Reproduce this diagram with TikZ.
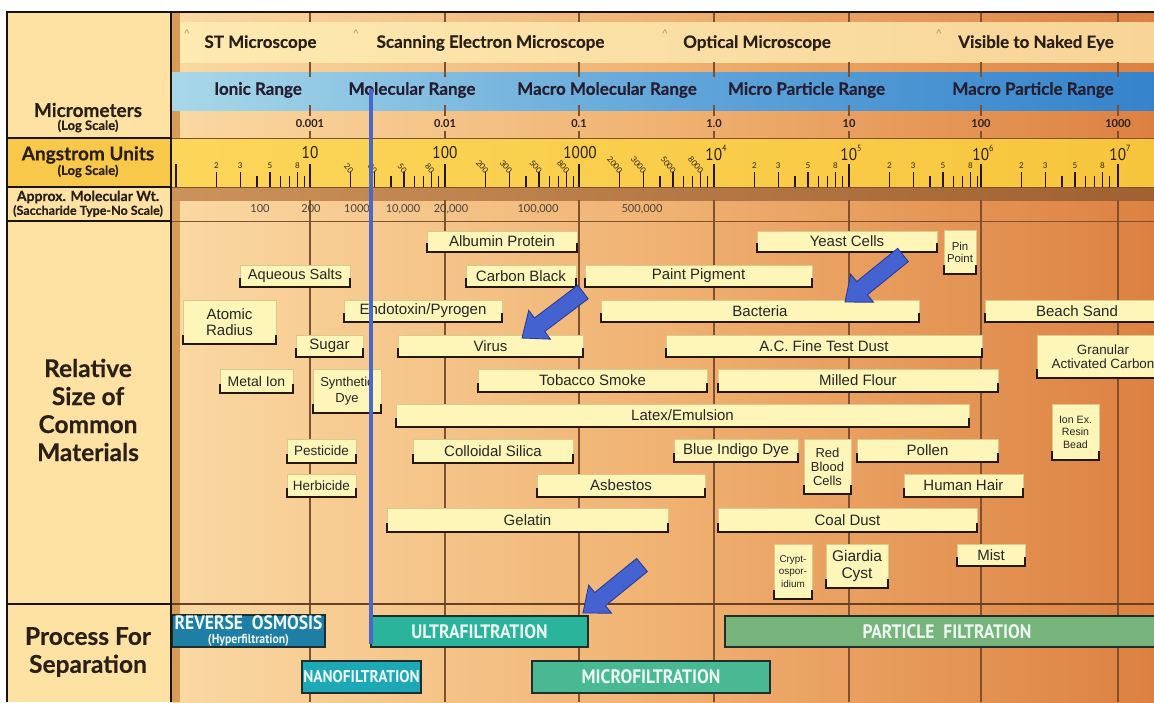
\documentclass[tikz,border=0pt]{standalone}
\usepackage{fontspec}
\usetikzlibrary{calc}
\setmainfont{Liberation Sans}
\newfontfamily\hdf{Lato}
\newfontfamily\hdheavy[FakeBold=0.35]{Lato}
\newfontfamily\condf[FakeStretch=0.9]{PT Sans}
\definecolor{frame}{HTML}{1A1410}
\definecolor{leftc}{HTML}{FDE2A4}
\definecolor{bgL}{HTML}{FAD9A3}
\definecolor{bgM}{HTML}{F0B272}
\definecolor{bgR}{HTML}{DC8142}
\definecolor{stripc}{HTML}{D89C58}
\definecolor{micL}{HTML}{FDEAB0}
\definecolor{micR}{HTML}{F8D498}
\definecolor{bluL}{HTML}{A8D8E8}
\definecolor{bluM}{HTML}{62A6DA}
\definecolor{bluR}{HTML}{3583CB}
\definecolor{angL}{HTML}{FCD65A}
\definecolor{angR}{HTML}{F7C53C}
\definecolor{angLeft}{HTML}{F8C84A}
\definecolor{darkL}{HTML}{CC925A}
\definecolor{darkR}{HTML}{A06032}
\definecolor{gridc}{HTML}{7E5230}
\definecolor{hdtext}{HTML}{2A2018}
\definecolor{boxfill}{HTML}{FDF6B8}
\definecolor{boxedge}{HTML}{D9C98C}
\definecolor{bracketc}{HTML}{24180E}
\definecolor{bluline}{HTML}{4A68CC}
\definecolor{arrfill}{HTML}{4563D0}
\definecolor{arredge}{HTML}{2A3C98}
\definecolor{roC}{HTML}{1F7EA6}
\definecolor{ufC}{HTML}{2BB49C}
\definecolor{nfC}{HTML}{1CA8B4}
\definecolor{mfC}{HTML}{48B992}
\definecolor{pfC}{HTML}{76B47B}
\definecolor{procedge}{HTML}{1E2E2E}
\definecolor{proctext}{HTML}{EEF8F2}
\definecolor{caretc}{HTML}{B88E6A}
\newcommand\matnode[8]{%
  \node[matbox, minimum width={(#4-#2)*1pt}, minimum height={(#5-#3)*1pt}, font=\fontsize{#6}{#7}\selectfont] (#1) at ({(#2+#4)/2},{(#3+#5)/2}) {#8};
  \draw[bracket] ([yshift=9pt]#1.south west) -- (#1.south west) -- (#1.south east) -- ([yshift=9pt]#1.south east);
}
\newcommand\procnode[7]{%
  \node[procbox, fill=#6, minimum width={(#4-#2)*1pt}, minimum height={(#5-#3)*1pt}] (#1) at ({(#2+#4)/2},{(#3+#5)/2}) {#7};
}
\newcommand\blockarrow[1]{%
  \coordinate (#1b) at ($(#1p)!22pt!(#1t)$);
  \filldraw[arrowst] ($(#1t)!8.5pt!90:(#1p)$) -- ($(#1b)!8.5pt!90:(#1p)$) -- ($(#1b)!18pt!90:(#1p)$) -- (#1p) -- ($(#1b)!18pt!-90:(#1p)$) -- ($(#1b)!8.5pt!-90:(#1p)$) -- ($(#1t)!8.5pt!-90:(#1p)$) -- cycle;
}
\newcommand\angexp[1]{\raisebox{0.55em}{\fontsize{9}{9}\selectfont #1}}
\begin{document}
\begin{tikzpicture}[x=1pt,y=-1pt,
  hd/.style={text=hdtext, font=\hdheavy\bfseries\fontsize{19}{20}\selectfont, inner sep=0pt},
  hdsm/.style={text=hdtext, font=\hdheavy\bfseries\fontsize{13}{14}\selectfont, inner sep=0pt},
  big/.style={text=hdtext, font=\hdheavy\bfseries\fontsize{24.5}{28}\selectfont, inner sep=0pt, align=center},
  scope/.style={text=hdtext, font=\hdheavy\bfseries\fontsize{17}{18}\selectfont, inner sep=0pt},
  rng/.style={text=hdtext!90!blue, font=\hdheavy\bfseries\fontsize{17}{18}\selectfont, inner sep=0pt},
  umlab/.style={text=hdtext, font=\hdf\bfseries\fontsize{11}{12}\selectfont, inner sep=0pt},
  mwlab/.style={text=hdtext!85, font=\hdf\fontsize{11}{12}\selectfont, inner sep=0pt},
  majlab/.style={text=hdtext, font=\condf\fontsize{17}{17}\selectfont, inner sep=0pt},
  minlab/.style={text=hdtext, font=\hdf\fontsize{8}{8}\selectfont, inner sep=0pt},
  rotlab/.style={text=hdtext, font=\hdf\fontsize{8}{8}\selectfont, inner sep=0pt, rotate=-50},
  caret/.style={text=caretc, font=\fontsize{11}{11}\selectfont, inner sep=0pt},
  gridln/.style={draw=gridc, line width=1.1pt},
  majtick/.style={draw=bracketc, line width=2.2pt},
  mintick/.style={draw=bracketc, line width=1.1pt},
  matbox/.style={draw=boxedge, fill=boxfill, line width=0.5pt, inner sep=0pt, align=center, text=black!85},
  bracket/.style={draw=bracketc, line width=2.2pt},
  procbox/.style={draw=procedge, line width=1.5pt, inner sep=0pt, align=center, text=proctext, font=\condf\bfseries\fontsize{19.5}{19.5}\selectfont},
  arrowst/.style={fill=arrfill, draw=arredge, line width=0.9pt, line join=miter}
]
\useasboundingbox (0,0) rectangle (1154,702);
\clip (0,0) rectangle (1154,702);
\fill[white] (0,0) rectangle (1154,702);
% backgrounds
\shade[left color=bgL, right color=bgR, middle color=bgM] (171,12) rectangle (1154,702);
\fill[stripc] (172,12) rectangle (180,702);
\fill[leftc] (7,12) rectangle (171,702);
\shade[left color=micL, right color=micR] (180,22) rectangle (1154,62);
\shade[left color=bluL, right color=bluR, middle color=bluM] (172,72) rectangle (1154,110);
\shade[left color=angL, right color=angR] (172,138) rectangle (1154,187);
\fill[angLeft] (7,138) rectangle (171,187);
\shade[left color=darkL, right color=darkR] (172,187) rectangle (1154,200);
% grid
\foreach \d in {310,445,579,714,849,981,1118} {
  \draw[gridln] (\d,12) -- (\d,22) (\d,62) -- (\d,77) (\d,105) -- (\d,116) (\d,131) -- (\d,138) (\d,200) -- (\d,702);
}
\draw[draw=gridc, line width=0.8pt] (171,138) -- (1154,138) (171,187) -- (1154,187) (171,221) -- (1154,221);
\draw[draw=gridc!80!black, line width=1.2pt] (171,604) -- (1154,604);
\draw[draw=frame, line width=1.5pt] (7,138) -- (171,138) (7,187) -- (171,187) (7,221) -- (171,221) (7,604) -- (171,604);
% angstrom ticks
\foreach \d in {176,310,445,579,714,849,981,1118} {
  \draw[majtick] (\d,164) -- (\d,187);
  \foreach \k in {2,3,5,8} { \draw[mintick] ({\d+134.5*log10(\k)},172) -- ({\d+134.5*log10(\k)},187); }
  \foreach \k in {4,6,7,9} { \draw[mintick] ({\d+134.5*log10(\k)},176) -- ({\d+134.5*log10(\k)},187); }
}
\foreach \d in {176,714,849,981,1118} {
  \foreach \k in {2,3,5,8} { \node[minlab] (ml-\d-\k) at ({\d+134.5*log10(\k)},166) {\k}; }
}
\foreach \d/\m in {310/0,445/00,579/000} {
  \foreach \k in {2,3,5,8} { \node[rotlab, anchor=east] (rl-\d-\k) at ({\d+134.5*log10(\k)+1.5},172) {\k\m}; }
}
\node[majlab] (a1) at (310,153) {10};
\node[majlab] (a2) at (445,153) {100};
\node[majlab] (a3) at (580,153) {1000};
\node[majlab] (a4) at (716,153) {10\angexp{4}};
\node[majlab] (a5) at (851,153) {10\angexp{5}};
\node[majlab] (a6) at (983,153) {10\angexp{6}};
\node[majlab] (a7) at (1120,153) {10\angexp{7}};
% micrometer labels
\node[umlab] (u1) at (310,124) {0.001};
\node[umlab] (u2) at (445,124) {0.01};
\node[umlab] (u3) at (579,124) {0.1};
\node[umlab] (u4) at (714,124) {1.0};
\node[umlab] (u5) at (849,124) {10};
\node[umlab] (u6) at (981,124) {100};
\node[umlab] (u7) at (1118,124) {1000};
% molecular weight labels
\node[mwlab] (w1) at (260,209) {100};
\node[mwlab] (w2) at (311,209) {200};
\node[mwlab] (w3) at (357,209) {1000};
\node[mwlab] (w4) at (403,209) {10,000};
\node[mwlab] (w5) at (451,209) {20,000};
\node[mwlab] (w6) at (538,209) {100,000};
\node[mwlab] (w7) at (642,209) {500,000};
% microscope band
\node[caret] (c1) at (187,34) {\textasciicircum};
\node[caret] (c2) at (356,34) {\textasciicircum};
\node[caret] (c3) at (665,34) {\textasciicircum};
\node[caret] (c4) at (939,34) {\textasciicircum};
\node[scope] (s1) at (260.5,43) {ST Microscope};
\node[scope] (s2) at (490.5,43) {Scanning Electron Microscope};
\node[scope] (s3) at (757,43) {Optical Microscope};
\node[scope] (s4) at (1036,43) {Visible to Naked Eye};
% range band
\node[rng] (r1) at (258,90) {Ionic Range};
\node[rng] (r2) at (412,90) {Molecular Range};
\node[rng] (r3) at (607,90) {Macro Molecular Range};
\node[rng] (r4) at (806.5,90) {Micro Particle Range};
\node[rng] (r5) at (1033,90) {Macro Particle Range};
% left column
\node[hd] (lmicro) at (88,110) {Micrometers};
\node[hdsm] (lmicro2) at (88,126) {(Log Scale)};
\node[hd] (lang) at (88,155) {Angstrom Units};
\node[hdsm] (lang2) at (88,171) {(Log Scale)};
\node[hdsm, font=\hdheavy\bfseries\fontsize{14}{14}\selectfont] (lmw) at (88,197) {Approx. Molecular Wt.};
\node[hdsm, font=\hdheavy\bfseries\fontsize{12.5}{13}\selectfont] (lmw2) at (88,211) {(Saccharide Type-No Scale)};
\node[big] (lrel) at (88,410) {Relative\\Size of\\Common\\Materials};
\node[big] (lproc) at (88,652) {Process For\\Separation};
% materials
\matnode{albumin}{427}{231}{577}{252}{15}{16}{Albumin Protein}
\matnode{yeast}{757}{231}{937}{252}{15}{16}{Yeast Cells}
\matnode{pin}{944}{230}{976}{274}{11.4}{12}{Pin\\Point}
\matnode{aqueous}{240}{265}{350}{287}{14.6}{16}{Aqueous Salts}
\matnode{carbon}{466}{265}{576}{287}{15}{16}{Carbon Black}
\matnode{paint}{585}{265}{812}{287}{15}{16}{Paint Pigment}
\matnode{atomic}{183}{300}{276}{344}{15}{15.5}{Atomic\\Radius}
\matnode{endotoxin}{344}{300}{502}{322}{15}{16}{Endotoxin/Pyrogen}
\matnode{bacteria}{601}{300}{919}{322}{15}{16}{Bacteria}
\matnode{beach}{985}{300}{1169}{322}{15}{16}{Beach Sand}
\matnode{sugar}{296}{335}{363}{357}{15}{16}{Sugar}
\matnode{virus}{398}{335}{583}{357}{15}{16}{Virus}
\matnode{acfine}{666}{335}{982}{357}{15}{16}{A.C. Fine Test Dust}
\matnode{granular}{1037}{335}{1169}{378}{13.4}{14}{Granular\\Activated Carbon}
\matnode{metal}{220}{369}{293}{393}{14}{15}{Metal Ion}
\matnode{synth}{313}{369}{381}{413}{13}{16}{Synthetic\\Dye}
\matnode{tobacco}{478}{369}{707}{392}{15}{16}{Tobacco Smoke}
\matnode{milled}{718}{369}{998}{392}{15}{16}{Milled Flour}
\matnode{latex}{396}{404}{969}{427}{15}{16}{Latex/Emulsion}
\matnode{ionex}{1052}{404}{1099}{460}{10.6}{12.5}{Ion Ex.\\Resin\\Bead}
\matnode{pesticide}{287}{439}{356}{463}{13.5}{14}{Pesticide}
\matnode{colloidal}{413}{439}{573}{463}{15}{16}{Colloidal Silica}
\matnode{indigo}{674}{439}{798}{462}{15}{16}{Blue Indigo Dye}
\matnode{rbc}{804}{439}{851}{494}{13}{14}{Red\\Blood\\Cells}
\matnode{pollen}{857}{439}{998}{462}{15}{16}{Pollen}
\matnode{herbicide}{287}{474}{356}{497}{13.5}{14}{Herbicide}
\matnode{asbestos}{537}{474}{705}{497}{15}{16}{Asbestos}
\matnode{hair}{904}{474}{1023}{497}{15}{16}{Human Hair}
\matnode{gelatin}{387}{508}{668}{532}{15}{16}{Gelatin}
\matnode{coal}{718}{508}{977}{532}{15}{16}{Coal Dust}
\matnode{crypto}{774}{544}{812}{599}{9.9}{12.5}{Crypt-\\ospor-\\idium}
\matnode{giardia}{826}{544}{888}{588}{15.5}{17}{Giardia\\Cyst}
\matnode{mist}{957}{544}{1025}{566}{15}{16}{Mist}
% process boxes
\procnode{ro}{172}{615}{325}{647}{roC}{REVERSE\ \ OSMOSIS\\[-5pt]{\fontsize{13}{13}\selectfont(Hyperfiltration)}}
\procnode{uf}{371}{616}{588}{647}{ufC}{ULTRAFILTRATION}
\procnode{pf}{725}{616}{1169}{647}{pfC}{PARTICLE\ \ FILTRATION}
\procnode{nf}{302}{661}{421}{693}{nfC}{\fontsize{17}{17}\selectfont NANOFILTRATION}
\procnode{mf}{532}{661}{770}{693}{mfC}{MICROFILTRATION}
% blue marker line
\coordinate (bl1) at (371,89);
\coordinate (bl2) at (371,644);
\draw[draw=bluline, line width=4pt] (bl1) -- (bl2);
% block arrows
\coordinate (a1t) at (583,292); \coordinate (a1p) at (522,338);
\blockarrow{a1}
\coordinate (a2t) at (903,255); \coordinate (a2p) at (845,302);
\blockarrow{a2}
\coordinate (a3t) at (642,565); \coordinate (a3p) at (583,613);
\blockarrow{a3}
% frame
\draw[draw=frame, line width=2pt] (7,702) -- (7,12) -- (1154,12);
\draw[draw=frame, line width=2pt] (171,12) -- (171,702);
\end{tikzpicture}
\end{document}
